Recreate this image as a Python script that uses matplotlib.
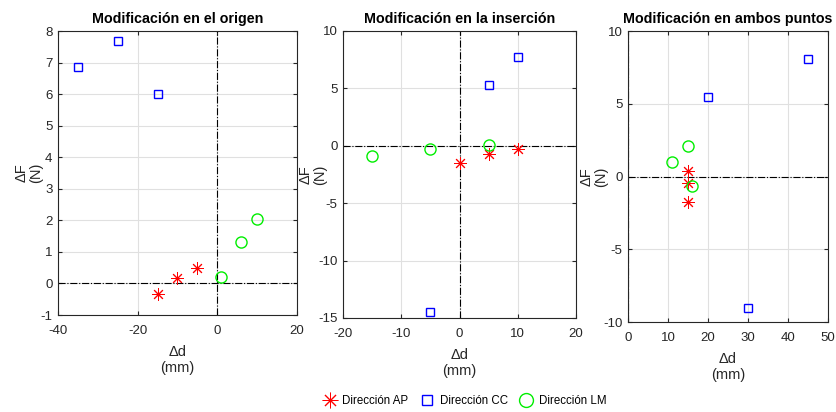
import matplotlib.pyplot as plt
import numpy as np

plt.rcParams['font.family'] = ['Liberation Sans', 'DejaVu Sans']
plt.rcParams['axes.unicode_minus'] = False

# Panel titles and axis limits
titles = ["Modificación en el origen", "Modificación en la inserción",
          "Modificación en ambos puntos"]
xlims = [(-40, 20), (-20, 20), (0, 50)]
ylims = [(-1, 8), (-15, 10), (-10, 10)]
xticks = [[-40, -20, 0, 20], [-20, -10, 0, 10, 20], [0, 10, 20, 30, 40, 50]]
yticks = [[-1, 0, 1, 2, 3, 4, 5, 6, 7, 8], [-15, -10, -5, 0, 5, 10],
          [-10, -5, 0, 5, 10]]

# Data: (delta d [mm], delta F [N]) per direction, per panel
ap_d = [[-15, -10, -5], [0, 5, 10], [15, 15, 15]]
ap_f = [[-0.32, 0.17, 0.5], [-1.47, -0.72, -0.27], [0.36, -0.47, -1.73]]
cc_d = [[-35, -25, -15], [-5, 5, 10], [20, 45, 30]]
cc_f = [[6.85, 7.68, 6.02], [-14.48, 5.33, 7.7], [5.46, 8.05, -9.02]]
lm_d = [[1, 6, 10], [-15, -5, 5], [11, 15, 16]]
lm_f = [[0.22, 1.3, 2.05], [-0.86, -0.27, 0.1], [1.0, 2.1, -0.63]]

# axes placement [left, bottom, width, height] in figure fractions
positions = [[0.0693, 0.2354, 0.2855, 0.6893],
             [0.4098, 0.2282, 0.2784, 0.6966],
             [0.7503, 0.2184, 0.2390, 0.7063]]
# where the y label sits (axes fraction, right edge of the label)
ylabel_x = [-0.063, -0.069, -0.10]

fig = plt.figure(figsize=(8.37, 4.12), dpi=100)

handles = []
for i in range(3):
    ax = fig.add_axes(positions[i])
    ax.axvline(0, color='black', linestyle='-.', linewidth=0.8, zorder=1)
    ax.axhline(0, color='black', linestyle='-.', linewidth=0.8, zorder=1)
    h1, = ax.plot(ap_d[i], ap_f[i], linestyle='none', marker=(8, 2, 0),
                  markersize=9, markeredgecolor='red', markeredgewidth=0.7,
                  label='Dirección AP', zorder=3)
    h2, = ax.plot(cc_d[i], cc_f[i], linestyle='none', marker='s',
                  markersize=6, markerfacecolor='none', markeredgecolor='blue',
                  markeredgewidth=1.0, label='Dirección CC', zorder=3)
    h3, = ax.plot(lm_d[i], lm_f[i], linestyle='none', marker='o',
                  markersize=8, markerfacecolor='none', markeredgecolor='#00ee00',
                  markeredgewidth=1.0, label='Dirección LM', zorder=3)
    handles = [h1, h2, h3]

    ax.set_xlim(xlims[i])
    ax.set_ylim(ylims[i])
    ax.set_xticks(xticks[i])
    ax.set_yticks(yticks[i])
    ax.grid(True, color='#e0e0e0', linewidth=0.8)
    ax.set_axisbelow(True)
    ax.tick_params(direction='in', length=3, labelsize=9.5, colors='#262626',
                   top=True, right=True)
    ax.tick_params(axis='x', pad=7)
    ax.tick_params(axis='y', pad=4)
    for s in ax.spines.values():
        s.set_color('#262626')
        s.set_linewidth(0.8)
    ax.set_title(titles[i], fontsize=10.3, fontweight='bold', pad=6)
    ax.set_xlabel('Δd\n(mm)', fontsize=10.5, color='#262626', labelpad=6)
    ax.set_ylabel('ΔF\n(N)', fontsize=10.5, color='#262626', linespacing=1.0)
    ax.yaxis.set_label_coords(ylabel_x[i], 0.5)

fig.legend(handles=handles, loc='center', bbox_to_anchor=(0.555, 0.027),
           ncol=3, frameon=False, fontsize=8.3, handlelength=1.2,
           markerscale=1.25, handletextpad=0.5, columnspacing=1.0)

fig.savefig('out.png', dpi=100)
